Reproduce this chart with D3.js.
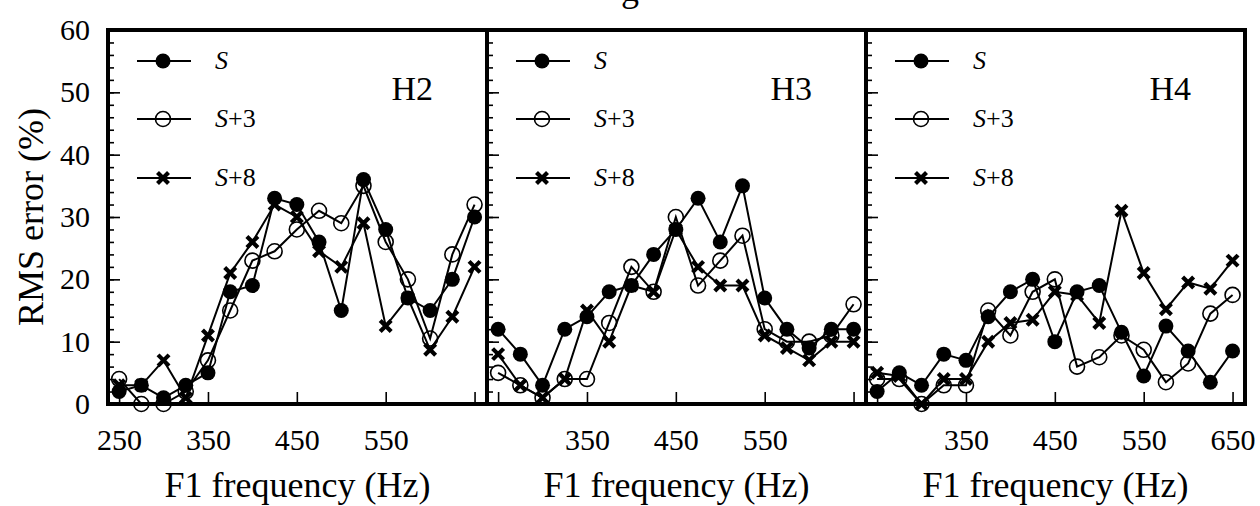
<!DOCTYPE html>
<html>
<head>
<meta charset="utf-8">
<script src="https://cdn.jsdelivr.net/npm/d3@7"></script>
<style>
  body { margin: 0; background: #fff; }
  svg { display: block; }
  text { font-family: "Liberation Serif", "Times New Roman", Times, serif; fill: #000; }
</style>
</head>
<body>
<div id="chart"></div>
<script>
// F1 frequencies (Hz), one point every 25 Hz
const freqs = [250, 275, 300, 325, 350, 375, 400, 425, 450, 475, 500, 525, 550, 575, 600, 625, 650];
const panels = ["H2", "H3", "H4"];
const seriesNames = ["S", "S+3", "S+8"];
const yTicks = [0, 10, 20, 30, 40, 50, 60];
const xTicks = [250, 350, 450, 550, 650];
const xLabels = [[250, 350, 450, 550], [350, 450, 550], [350, 450, 550, 650]];

// RMS error (%) per panel and condition
const h2S  = [2, 3, 1, 3, 5, 18, 19, 33, 32, 26, 15, 36, 28, 17, 15, 20, 30];
const h2S3 = [4, 0, 0, 2, 7, 15, 23, 24.5, 28, 31, 29, 35, 26, 20, 10.5, 24, 32];
const h2S8 = [3, 3, 7, 1, 11, 21, 26, 32, 30, 24.5, 22, 29, 12.5, 17, 8.7, 14, 22];

const h3S  = [12, 8, 3, 12, 14, 18, 19, 24, 28, 33, 26, 35, 17, 12, 9, 12, 12];
const h3S3 = [5, 3, 1, 4, 4, 13, 22, 18, 30, 19, 23, 27, 12, 10, 10, 11, 16];
const h3S8 = [8, 3, 1, 4, 15, 10, 19, 18, 28, 22, 19, 19, 11, 9, 7, 10, 10];

const h4S  = [2, 5, 3, 8, 7, 14, 18, 20, 10, 18, 19, 11.5, 4.5, 12.5, 8.5, 3.5, 8.5];
const h4S3 = [4, 4, 0, 3, 3, 15, 11, 18, 20, 6, 7.5, 11, 8.7, 3.5, 6.5, 14.5, 17.5];
const h4S8 = [5, 4.5, 0, 4, 4, 10, 13, 13.5, 18, 17.5, 13, 31, 21, 15.2, 19.5, 18.5, 23];

const panelData = [
    [h2S, h2S3, h2S8],
    [h3S, h3S3, h3S8],
    [h4S, h4S3, h4S8]
];

const width = 1260, height = 506;
const plotLeft = 108, plotRight = 1245, plotTop = 30, plotBottom = 404;
const serif = "'Liberation Serif', 'Times New Roman', Times, serif";

const svg = d3.select("#chart").append("svg")
    .attr("width", width)
    .attr("height", height);

const px = d3.scaleBand().domain(panels).range([plotLeft, plotRight]).paddingInner(0).paddingOuter(0);
const pw = px.bandwidth();

const x = d3.scaleLinear().domain([237.5, 664]).range([0, pw]);
const y = d3.scaleLinear().domain([0, 60]).range([plotBottom, plotTop]);

const line = d3.line()
    .x((d, i) => x(freqs[i]))
    .y(d => y(d));

function drawMarker(g, type) {
    if (type === 0) {
        g.append("circle").attr("r", 7.5).attr("fill", "#000");
    } else if (type === 1) {
        g.append("circle").attr("r", 7.5).attr("fill", "none")
            .attr("stroke", "#000").attr("stroke-width", 1.6);
    } else {
        g.append("path").attr("d", "M-5.5,-5.5L5.5,5.5M-5.5,5.5L5.5,-5.5")
            .attr("stroke", "#000").attr("stroke-width", 4.2);
    }
}

// cut-off title descender at the very top
svg.append("text")
    .attr("x", 630)
    .attr("y", 1)
    .attr("text-anchor", "middle")
    .style("font-family", serif)
    .style("font-size", "36px")
    .text("g");

panels.forEach((name, pi) => {
    const g = svg.append("g")
        .attr("transform", `translate(${px(name)},0)`);

    // y ticks inside left edge
    g.append("g")
        .call(d3.axisRight(y).tickValues(d3.range(0, 61, 2)).tickSize(6).tickFormat(""))
        .call(a => a.select(".domain").remove())
        .call(a => a.selectAll("line").attr("stroke-width", 1.6));

    g.append("g")
        .call(d3.axisRight(y).tickValues(yTicks).tickSize(12).tickFormat(""))
        .call(a => a.select(".domain").remove())
        .call(a => a.selectAll("line").attr("stroke-width", 1.6));

    // x ticks pointing up from the bottom
    g.append("g")
        .attr("transform", `translate(0,${plotBottom})`)
        .call(d3.axisTop(x).tickValues(xTicks).tickSize(12).tickFormat(""))
        .call(a => a.select(".domain").remove())
        .call(a => a.selectAll("line").attr("stroke-width", 1.6));

    // x tick labels
    g.append("g")
        .attr("transform", `translate(0,${plotBottom})`)
        .call(d3.axisBottom(x).tickValues(xLabels[pi]).tickSize(0).tickPadding(25).tickFormat(d3.format("d")))
        .call(a => a.select(".domain").remove())
        .call(a => a.selectAll("text")
            .style("font-family", serif)
            .style("font-size", "30px")
            .attr("fill", "#000"));

    // x title
    g.append("text")
        .attr("x", pw / 2)
        .attr("y", 497)
        .attr("text-anchor", "middle")
        .style("font-family", serif)
        .style("font-size", "36px")
        .text("F1 frequency (Hz)");

    // series: open, cross, then filled on top
    const order = [1, 2, 0];
    order.forEach(si => {
        const vals = panelData[pi][si];
        g.append("path")
            .datum(vals)
            .attr("fill", "none")
            .attr("stroke", "#000")
            .attr("stroke-width", 2)
            .attr("d", line);
        vals.forEach((v, i) => {
            const m = g.append("g")
                .attr("transform", `translate(${x(freqs[i])},${y(v)})`);
            drawMarker(m, si);
        });
    });

    // legend
    const legY = [61, 119, 178];
    seriesNames.forEach((s, si) => {
        const lg = g.append("g").attr("transform", `translate(0,${legY[si]})`);
        lg.append("line")
            .attr("x1", 29).attr("x2", 83)
            .attr("stroke", "#000").attr("stroke-width", 2);
        const m = lg.append("g").attr("transform", "translate(55,0)");
        drawMarker(m, si);
        const t = lg.append("text")
            .attr("x", 107)
            .attr("y", 8)
            .style("font-family", serif)
            .style("font-size", "26px");
        t.append("tspan").style("font-style", "italic").text("S");
        if (s.length > 1) t.append("tspan").text(s.slice(1));
    });

    // panel label
    g.append("text")
        .attr("x", pw - 54)
        .attr("y", 100)
        .attr("text-anchor", "end")
        .style("font-family", serif)
        .style("font-size", "34px")
        .text(name);

    // frame
    g.append("rect")
        .attr("x", 0).attr("y", plotTop)
        .attr("width", pw).attr("height", plotBottom - plotTop)
        .attr("fill", "none")
        .attr("stroke", "#000")
        .attr("stroke-width", 4);
});

// y tick labels on the first panel
svg.append("g")
    .attr("transform", `translate(${plotLeft},0)`)
    .call(d3.axisLeft(y).tickValues(yTicks).tickSize(0).tickPadding(18))
    .call(a => a.select(".domain").remove())
    .call(a => a.selectAll("text")
        .style("font-family", serif)
        .style("font-size", "30px")
        .attr("fill", "#000"));

// y title
svg.append("text")
    .attr("transform", `translate(43,${(plotTop + plotBottom) / 2}) rotate(-90)`)
    .attr("text-anchor", "middle")
    .style("font-family", serif)
    .style("font-size", "36px")
    .text("RMS error (%)");
</script>
</body>
</html>
